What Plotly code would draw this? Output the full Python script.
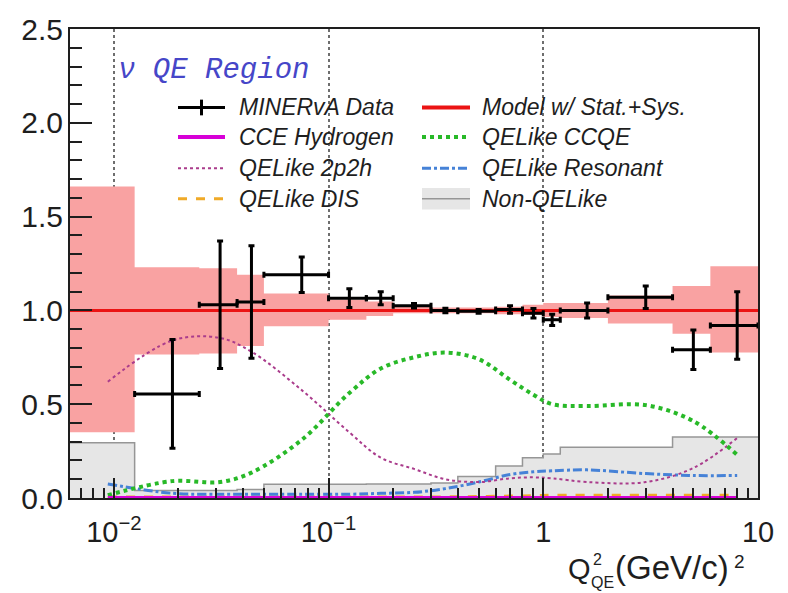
import math
import plotly.graph_objects as go

# Q^2_QE binning (GeV/c)^2
edges = [0.00625, 0.0125, 0.025, 0.0375, 0.05, 0.1, 0.15, 0.2, 0.3, 0.4,
         0.6, 0.8, 1.0, 1.2, 2.0, 4.0, 6.0, 10.0]
centers = [0.5 * (a + b) for a, b in zip(edges[:-1], edges[1:])]

# Ratio to model: data (first bin has no measurement)
data_ratio = [None, 0.555, 1.03, 1.045, 1.19, 1.065, 1.065, 1.025, 1.0, 0.995,
              1.005, 0.985, 0.95, 1.0, 1.07, 0.79, 0.92]
data_err = [None, 0.29, 0.34, 0.30, 0.095, 0.05, 0.035, 0.012, 0.012, 0.01,
            0.02, 0.025, 0.03, 0.04, 0.06, 0.105, 0.18]

# Model uncertainty band (stat. + sys.)
band_low = [0.35, 0.765, 0.77, 0.81, 0.915, 0.95, 0.97, 0.985, 0.985, 0.985,
            0.98, 0.975, 0.965, 0.96, 0.93, 0.875, 0.775]
band_high = [1.66, 1.23, 1.225, 1.19, 1.09, 1.057, 1.047, 1.02, 1.015, 1.015,
             1.02, 1.03, 1.04, 1.04, 1.08, 1.13, 1.235]

# Component fractions at bin centres
cce_hydrogen = [0.0] * 17
qe_ccqe = [0.015, 0.09, 0.085, 0.135, 0.31, 0.56, 0.69, 0.75, 0.775, 0.74,
           0.63, 0.55, 0.50, 0.49, 0.495, 0.41, 0.23]
qe_2p2h = [0.62, 0.84, 0.853, 0.78, 0.575, 0.35, 0.215, 0.155, 0.10, 0.085,
           0.105, 0.11, 0.105, 0.085, 0.085, 0.16, 0.32]
qe_res = [0.075, 0.025, 0.02, 0.02, 0.02, 0.02, 0.025, 0.03, 0.05, 0.085,
          0.125, 0.14, 0.145, 0.15, 0.13, 0.12, 0.12]
qe_dis = [0.005, 0.005, 0.005, 0.005, 0.005, 0.005, 0.005, 0.005, 0.006, 0.008,
          0.01, 0.012, 0.015, 0.015, 0.015, 0.015, 0.015]
non_qe = [0.295, 0.04, 0.04, 0.045, 0.073, 0.073, 0.075, 0.075, 0.08, 0.115,
          0.17, 0.215, 0.235, 0.27, 0.27, 0.325, 0.325]

RED = "rgb(235,20,20)"
BAND = "rgb(249,162,162)"
MAGENTA = "rgb(215,0,215)"
GREEN = "rgb(40,185,40)"
PURPLE = "rgb(170,60,140)"
BLUE = "rgb(70,130,215)"
ORANGE = "rgb(240,170,40)"
GRAY_FILL = "rgb(230,230,230)"
GRAY_LINE = "rgb(150,150,150)"
TXT = "rgb(30,30,30)"

fig = go.Figure()

# uncertainty band as a stepped polygon
bx, by = [], []
for i in range(17):
    bx += [edges[i], edges[i + 1]]
    by += [band_high[i], band_high[i]]
for i in reversed(range(17)):
    bx += [edges[i + 1], edges[i]]
    by += [band_low[i], band_low[i]]
fig.add_trace(go.Scatter(x=bx, y=by, fill="toself", fillcolor=BAND,
                         line=dict(width=0), mode="lines", hoverinfo="skip"))

# model central value
fig.add_trace(go.Scatter(x=[edges[0], edges[-1]], y=[1.0, 1.0], mode="lines",
                         line=dict(color=RED, width=3)))

# non-QELike background histogram
fig.add_trace(go.Scatter(x=edges, y=non_qe + [non_qe[-1]], mode="lines",
                         line=dict(color=GRAY_LINE, width=1.5, shape="hv"),
                         fill="tozeroy", fillcolor=GRAY_FILL))

def curve(vals, color, width, dash):
    fig.add_trace(go.Scatter(x=centers, y=vals, mode="lines",
                             line=dict(color=color, width=width, dash=dash,
                                       shape="spline", smoothing=1.0)))

curve(qe_dis, ORANGE, 3, "dash")
curve(qe_res, BLUE, 3, "dashdot")
curve(qe_2p2h, PURPLE, 2, "dot")
curve(qe_ccqe, GREEN, 4, "dot")
curve(cce_hydrogen, MAGENTA, 4, "solid")

# data with bin-width and uncertainty bars
dx, dy, de, dxp, dxm = [], [], [], [], []
for i in range(17):
    if data_ratio[i] is None:
        continue
    dx.append(centers[i])
    dy.append(data_ratio[i])
    de.append(data_err[i])
    dxp.append(edges[i + 1] - centers[i])
    dxm.append(centers[i] - edges[i])
fig.add_trace(go.Scatter(
    x=dx, y=dy, mode="markers",
    marker=dict(color="black", size=3),
    error_y=dict(type="data", array=de, color="black", thickness=3, width=3),
    error_x=dict(type="data", symmetric=False, array=dxp, arrayminus=dxm,
                 color="black", thickness=3, width=3),
))

# pixel -> paper helpers for the plot frame
L, R, T, B = 70, 758, 20, 498
def px(x):
    return (x - L) / (R - L)
def py(y):
    return (B - y) / (B - T)

shapes, annos = [], []

# legend
rows = [100, 130, 162, 193]
c1 = (178, 225, 237)
c2 = (422, 470, 480)
lfont = dict(family="Liberation Sans", size=23, color=TXT, style="italic")

def legline(col, row, color, width, dash):
    shapes.append(dict(type="line", xref="paper", yref="paper",
                       x0=px(col[0]), x1=px(col[1]), y0=py(rows[row]), y1=py(rows[row]),
                       line=dict(color=color, width=width, dash=dash)))

def legtext(col, row, text):
    annos.append(dict(xref="paper", yref="paper", x=px(col[2]), y=py(rows[row]),
                      text=text, showarrow=False, xanchor="left", yanchor="middle",
                      font=lfont))

legline(c1, 0, "black", 3, "solid")
shapes.append(dict(type="line", xref="paper", yref="paper",
                   x0=px(201.5), x1=px(201.5), y0=py(rows[0] - 8), y1=py(rows[0] + 8),
                   line=dict(color="black", width=3)))
legtext(c1, 0, "MINERvA Data")
legline(c1, 1, MAGENTA, 4, "solid")
legtext(c1, 1, "CCE Hydrogen")
legline(c1, 2, PURPLE, 2, "dot")
legtext(c1, 2, "QELike 2p2h")
legline(c1, 3, ORANGE, 3, "dash")
legtext(c1, 3, "QELike DIS")

legline(c2, 0, RED, 4, "solid")
legtext(c2, 0, "Model w/ Stat.+Sys.")
legline(c2, 1, GREEN, 4, "dot")
legtext(c2, 1, "QELike CCQE")
legline(c2, 2, BLUE, 3, "dashdot")
legtext(c2, 2, "QELike Resonant")
shapes.append(dict(type="rect", xref="paper", yref="paper",
                   x0=px(c2[0]), x1=px(c2[1]), y0=py(rows[3] + 11), y1=py(rows[3] - 11),
                   fillcolor=GRAY_FILL, line=dict(width=0)))
legline(c2, 3, GRAY_LINE, 1.5, "solid")
legtext(c2, 3, "Non-QELike")

# region label
annos.append(dict(xref="paper", yref="paper", x=px(116), y=py(62),
                  text="\u03bd QE Region", showarrow=False, xanchor="left",
                  yanchor="middle",
                  font=dict(family="Liberation Mono", size=29, color="rgb(70,70,200)",
                            style="italic")))

# x-axis title with stacked super/subscript
tfont = dict(family="Liberation Sans", size=29, color=TXT)
wfont = dict(family="Liberation Sans", size=33, color=TXT)
sfont = dict(family="Liberation Sans", size=16, color=TXT)
annos.append(dict(xref="paper", yref="paper", x=px(567), y=py(570), text="Q",
                  showarrow=False, xanchor="left", yanchor="middle", font=tfont,
                  borderpad=0))
annos.append(dict(xref="paper", yref="paper", x=px(592), y=py(561), text="2",
                  showarrow=False, xanchor="left", yanchor="middle", font=sfont,
                  borderpad=0))
annos.append(dict(xref="paper", yref="paper", x=px(590), y=py(584), text="QE",
                  showarrow=False, xanchor="left", yanchor="middle", font=sfont,
                  borderpad=0))
annos.append(dict(xref="paper", yref="paper", x=px(614), y=py(569), text="(GeV/c)",
                  showarrow=False, xanchor="left", yanchor="middle", font=wfont,
                  borderpad=0))
annos.append(dict(xref="paper", yref="paper", x=px(733), y=py(563), text="2",
                  showarrow=False, xanchor="left", yanchor="middle",
                  font=dict(family="Liberation Sans", size=19, color=TXT),
                  borderpad=0))

minor_x = []
for dec in (0.001, 0.01, 0.1, 1.0):
    for m in range(2, 10):
        v = m * dec
        if edges[0] <= v <= edges[-1]:
            minor_x.append(v)

fig.update_layout(
    width=788, height=593,
    margin=dict(l=L, r=788 - R, t=T, b=593 - B),
    paper_bgcolor="white", plot_bgcolor="white",
    showlegend=False,
    shapes=shapes, annotations=annos,
    font=dict(family="Liberation Sans", color=TXT),
    xaxis=dict(
        type="log", range=[math.log10(edges[0]), math.log10(edges[-1])],
        tickvals=[0.01, 0.1, 1, 10],
        ticktext=["10<sup>\u22122</sup>", "10<sup>\u22121</sup>", "1", "10"],
        ticks="inside", ticklen=20, tickwidth=2, tickcolor=TXT,
        minor=dict(tickvals=minor_x, ticks="inside", ticklen=10, tickwidth=2,
                   tickcolor=TXT, showgrid=False),
        showgrid=True, gridcolor="rgb(110,110,110)", griddash="dot", gridwidth=1.5,
        showline=True, linecolor=TXT, linewidth=2, mirror=True,
        tickfont=dict(family="Liberation Sans", size=29, color=TXT),
        ticklabelstandoff=7, zeroline=False,
    ),
    yaxis=dict(
        range=[0, 2.5], tickvals=[0, 0.5, 1.0, 1.5, 2.0, 2.5],
        ticktext=["0.0", "0.5", "1.0", "1.5", "2.0", "2.5"],
        ticks="inside", ticklen=22, tickwidth=2, tickcolor=TXT,
        minor=dict(dtick=0.1, ticks="inside", ticklen=12, tickwidth=2,
                   tickcolor=TXT, showgrid=False),
        showgrid=False, zeroline=False,
        showline=True, linecolor=TXT, linewidth=2, mirror=True,
        tickfont=dict(family="Liberation Sans", size=30, color=TXT),
        ticklabelstandoff=-1,
    ),
)

fig.write_html("out.html")
